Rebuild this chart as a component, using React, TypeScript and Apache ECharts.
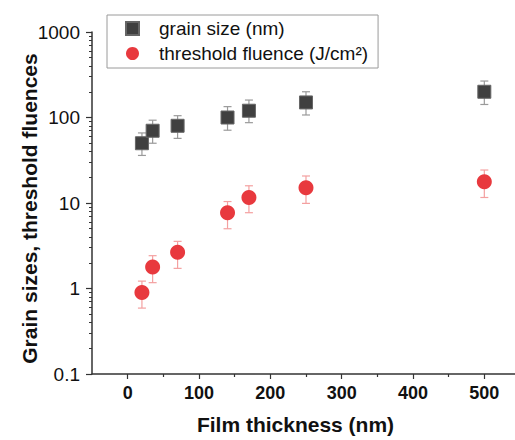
import React, { useEffect, useRef } from "react";
import * as echarts from "echarts";

const thickness = [20, 35, 70, 140, 170, 250, 500];
const grainSize = [50, 70, 80, 100, 120, 150, 200];
const grainLow = [36, 50, 57, 71, 87, 107, 142];
const grainHigh = [66, 93, 105, 134, 160, 200, 267];
const fluence = [0.9, 1.78, 2.65, 7.7, 11.6, 15.1, 17.7];
const fluenceLow = [0.59, 1.17, 1.72, 5.0, 7.7, 9.9, 11.6];
const fluenceHigh = [1.22, 2.42, 3.56, 10.4, 15.9, 20.7, 24.3];

const xTickLabels = [0, 100, 200, 300, 400, 500];
const xMinorTicks = [50, 150, 250, 350, 450];
const yTickLabels = [0.1, 1, 10, 100, 1000];
const yMinorTicks = [
  0.2, 0.3, 0.4, 0.5, 0.6, 0.7, 0.8, 0.9,
  2, 3, 4, 5, 6, 7, 8, 9,
  20, 30, 40, 50, 60, 70, 80, 90,
  200, 300, 400, 500, 600, 700, 800, 900,
];

const seriesNames = ["grain size (nm)", "threshold fluence (J/cm²)"];

const FONT = "'Liberation Sans', Arial, sans-serif";
const AXIS_COLOR = "#333333";

function errorBarSeries(xs: number[], lo: number[], hi: number[], color: string) {
  return {
    type: "custom",
    xAxisIndex: 0,
    yAxisIndex: 0,
    z: 1,
    silent: true,
    data: xs.map((x, i) => [x, lo[i], hi[i]]),
    encode: { x: 0, y: [1, 2] },
    renderItem: (params: any, api: any) => {
      const x = api.value(0);
      const pLo = api.coord([x, api.value(1)]);
      const pHi = api.coord([x, api.value(2)]);
      const cap = 4;
      const style = { stroke: color, lineWidth: 1.2, fill: "none" };
      return {
        type: "group",
        children: [
          { type: "line", shape: { x1: pLo[0], y1: pLo[1], x2: pHi[0], y2: pHi[1] }, style },
          { type: "line", shape: { x1: pLo[0] - cap, y1: pLo[1], x2: pLo[0] + cap, y2: pLo[1] }, style },
          { type: "line", shape: { x1: pHi[0] - cap, y1: pHi[1], x2: pHi[0] + cap, y2: pHi[1] }, style },
        ],
      };
    },
  };
}

export default function App() {
  const ref = useRef<HTMLDivElement>(null);
  useEffect(() => {
    if (!ref.current) return;
    const chart = echarts.init(ref.current, null, { renderer: "svg" });
    const option: any = {
      animation: false,
      backgroundColor: "#ffffff",
      textStyle: { fontFamily: FONT },
      grid: { left: 92, right: 0, top: 32, bottom: 66, containLabel: false },
      legend: {
        data: [
          { name: seriesNames[0], icon: "rect" },
          { name: seriesNames[1], icon: "circle" },
        ],
        orient: "vertical",
        left: 107,
        top: 15,
        itemWidth: 13,
        itemHeight: 13,
        itemGap: 6,
        padding: [4, 10, 5, 18],
        backgroundColor: "#ffffff",
        borderColor: "#9a9a9a",
        borderWidth: 1,
        textStyle: {
          fontFamily: FONT,
          fontSize: 19,
          color: "#111111",
          padding: [0, 0, 0, 15],
        },
      },
      xAxis: [
        {
          type: "value",
          position: "bottom",
          min: -50,
          max: 543,
          name: "Film thickness (nm)",
          nameLocation: "middle",
          nameGap: 40,
          nameMoveOverlap: false,
          nameTextStyle: {
            fontFamily: FONT,
            fontSize: 21,
            fontWeight: "bold",
            color: "#111111",
            padding: [0, 16, 0, 0],
          },
          axisLine: { show: true, onZero: false, lineStyle: { color: AXIS_COLOR, width: 1.5 } },
          axisTick: { show: true, inside: false, length: 5, customValues: xTickLabels, lineStyle: { color: AXIS_COLOR, width: 1.2 } },
          axisLabel: {
            customValues: xTickLabels,
            margin: 10,
            fontFamily: FONT,
            fontSize: 18,
            fontWeight: "bold",
            color: "#111111",
          },
          splitLine: { show: false },
        },
        {
          type: "value",
          position: "bottom",
          offset: 0,
          min: -50,
          max: 543,
          axisLine: { show: false, onZero: false },
          axisTick: { show: true, inside: false, length: 3, customValues: xMinorTicks, lineStyle: { color: AXIS_COLOR, width: 1.2 } },
          axisLabel: { show: false },
          splitLine: { show: false },
        },
      ],
      yAxis: [
        {
          type: "log",
          position: "left",
          logBase: 10,
          min: 0.1,
          max: 1000,
          name: "Grain sizes, threshold fluences",
          nameLocation: "middle",
          nameGap: 52,
          nameMoveOverlap: false,
          nameRotate: 90,
          nameTextStyle: {
            fontFamily: FONT,
            fontSize: 21,
            fontWeight: "bold",
            color: "#111111",
            padding: [0, 11, 0, 0],
          },
          axisLine: { show: true, onZero: false, lineStyle: { color: AXIS_COLOR, width: 1.5 } },
          axisTick: { show: true, inside: false, length: 6, customValues: yTickLabels, lineStyle: { color: AXIS_COLOR, width: 1.2 } },
          axisLabel: {
            customValues: yTickLabels,
            margin: 12,
            fontFamily: FONT,
            fontSize: 19,
            color: "#111111",
            formatter: (v: number) => String(v),
          },
          splitLine: { show: false },
        },
        {
          type: "log",
          position: "left",
          offset: 0,
          logBase: 10,
          min: 0.1,
          max: 1000,
          axisLine: { show: false, onZero: false },
          axisTick: { show: true, inside: false, length: 3, customValues: yMinorTicks, lineStyle: { color: AXIS_COLOR, width: 1 } },
          axisLabel: { show: false },
          splitLine: { show: false },
        },
      ],
      series: [
        errorBarSeries(thickness, grainLow, grainHigh, "#9a9a9a"),
        errorBarSeries(thickness, fluenceLow, fluenceHigh, "#f4a0a0"),
        {
          name: seriesNames[0],
          type: "scatter",
          symbol: "rect",
          symbolSize: 13,
          z: 3,
          itemStyle: { color: "#404040", borderColor: "#666666", borderWidth: 1, opacity: 1 },
          data: thickness.map((x, i) => [x, grainSize[i]]),
        },
        {
          name: seriesNames[1],
          type: "scatter",
          symbol: "circle",
          symbolSize: 15,
          z: 3,
          itemStyle: { color: "#e8393e", opacity: 1 },
          data: thickness.map((x, i) => [x, fluence[i]]),
        },
      ],
    };
    chart.setOption(option);
    return () => chart.dispose();
  }, []);
  return (
    <div
      ref={ref}
      style={{ position: "fixed", left: 0, top: 0, width: 515, height: 440, background: "#fff" }}
    />
  );
}
